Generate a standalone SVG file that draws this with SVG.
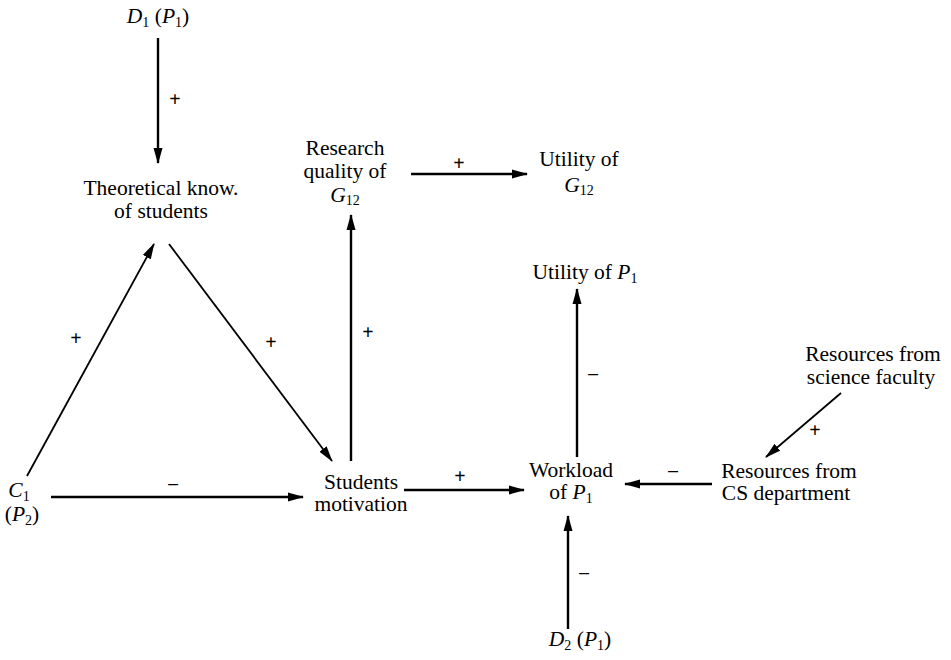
<svg xmlns="http://www.w3.org/2000/svg" width="951" height="660" viewBox="0 0 951 660">
<style>
text{font-family:"Liberation Serif","Times New Roman",serif;font-size:21.5px;fill:#000;text-anchor:middle}
.i{font-style:italic}
.s{font-size:14px;font-style:normal}
.sg{font-size:20px;font-weight:bold}
line{stroke:#000;stroke-width:2.4}
.d{stroke-width:1.8}
</style>
<defs>
<marker id="a" markerWidth="16" markerHeight="10" refX="15" refY="5" orient="auto" markerUnits="userSpaceOnUse">
<path d="M0,0.5 L16,5 L0,9.5 Z" fill="#000"/>
</marker>
</defs>
<rect width="951" height="660" fill="#fff"/>
<g id="connectors">
<line x1="158" y1="38" x2="158" y2="163" marker-end="url(#a)"/>
<line x1="411" y1="174" x2="527" y2="174" marker-end="url(#a)"/>
<line x1="351" y1="461" x2="351" y2="215" marker-end="url(#a)"/>
<line x1="577" y1="457" x2="577" y2="289" marker-end="url(#a)"/>
<line class="d" x1="841" y1="393" x2="766" y2="457" marker-end="url(#a)"/>
<line x1="712" y1="484" x2="625" y2="484" marker-end="url(#a)"/>
<line x1="404" y1="490" x2="524" y2="490" marker-end="url(#a)"/>
<line x1="568" y1="629" x2="568" y2="516" marker-end="url(#a)"/>
<line x1="51" y1="497" x2="303" y2="497" marker-end="url(#a)"/>
<line class="d" x1="27" y1="476" x2="154" y2="244" marker-end="url(#a)"/>
<line class="d" x1="169" y1="244" x2="332" y2="461" marker-end="url(#a)"/>
<g id="labels">
<text x="175" y="106" class="sg">+</text>
<text x="459" y="170" class="sg">+</text>
<text x="368" y="339" class="sg">+</text>
<text x="593" y="382">−</text>
<text x="815" y="437" class="sg">+</text>
<text x="673" y="479">−</text>
<text x="460" y="483" class="sg">+</text>
<text x="584" y="581">−</text>
<text x="173" y="492">−</text>
<text x="76" y="345" class="sg">+</text>
<text x="271" y="349" class="sg">+</text>
</g>
</g>
<g id="D1"><text x="158" y="23"><tspan class="i">D</tspan><tspan class="s" dy="4">1</tspan><tspan dy="-4"> (</tspan><tspan class="i">P</tspan><tspan class="s" dy="4">1</tspan><tspan dy="-4">)</tspan></text></g>
<g id="theo"><text x="161" y="195">Theoretical know.</text><text x="161" y="218">of students</text></g>
<g id="research"><text x="345" y="155">Research</text><text x="345" y="178">quality of</text><text x="345" y="202"><tspan class="i">G</tspan><tspan class="s" dy="3">12</tspan></text></g>
<g id="utilG"><text x="579" y="166">Utility of</text><text x="579" y="192"><tspan class="i">G</tspan><tspan class="s" dy="3">12</tspan></text></g>
<g id="utilP"><text x="585" y="279">Utility of <tspan class="i">P</tspan><tspan class="s" dy="4">1</tspan></text></g>
<g id="resSci"><text x="873" y="361">Resources from</text><text x="871" y="384">science faculty</text></g>
<g id="resCS"><text x="789" y="478">Resources from</text><text x="786" y="500">CS department</text></g>
<g id="workload"><text x="571" y="477">Workload</text><text x="571" y="499">of <tspan class="i">P</tspan><tspan class="s" dy="4">1</tspan></text></g>
<g id="students"><text x="361" y="489">Students</text><text x="361" y="511">motivation</text></g>
<g id="C1"><text x="19" y="497"><tspan class="i">C</tspan><tspan class="s" dy="4">1</tspan></text><text x="22" y="521">(<tspan class="i">P</tspan><tspan class="s" dy="4">2</tspan><tspan dy="-4">)</tspan></text></g>
<g id="D2"><text x="580" y="646"><tspan class="i">D</tspan><tspan class="s" dy="4">2</tspan><tspan dy="-4"> (</tspan><tspan class="i">P</tspan><tspan class="s" dy="4">1</tspan><tspan dy="-4">)</tspan></text></g>
</svg>
